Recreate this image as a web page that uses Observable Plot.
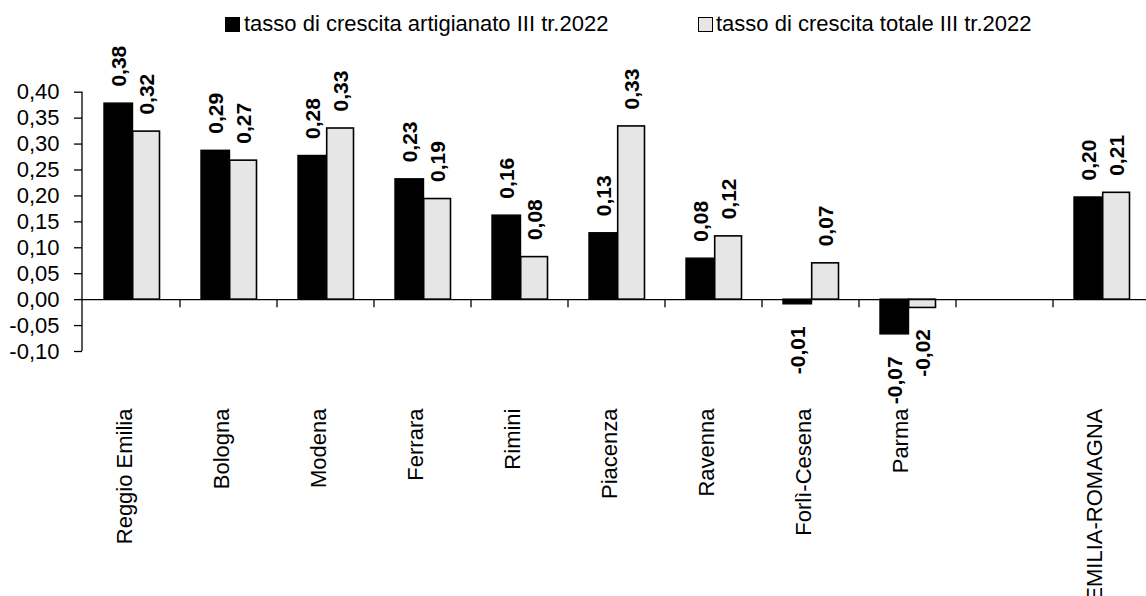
<!DOCTYPE html>
<html><head><meta charset="utf-8">
<script src="https://cdn.jsdelivr.net/npm/d3@7"></script>
<script src="https://cdn.jsdelivr.net/npm/@observablehq/plot@0.6"></script>
<style>
html,body{margin:0;padding:0;overflow:hidden;background:#fff;width:1146px;height:596px}
#legend{position:relative;height:40px;font-family:"Liberation Sans",Arial,sans-serif;font-size:22px;color:#000}
.sw{position:absolute;box-sizing:border-box}
.lt{position:absolute;line-height:22px;white-space:nowrap}
#chart svg{max-width:none !important;display:block;overflow:hidden}
</style></head><body>
<div id="legend"></div><div id="chart"></div>
<script>
// ---- data ----
const categories = ["Reggio Emilia", "Bologna", "Modena", "Ferrara", "Rimini", "Piacenza", "Ravenna", "Forlì-Cesena", "Parma", "", "EMILIA-ROMAGNA"];
const artigianato = [0.378, 0.287, 0.277, 0.232, 0.162, 0.128, 0.079, -0.009, -0.067, null, 0.197];
const totale      = [0.324, 0.268, 0.330, 0.194, 0.082, 0.334, 0.122, 0.070, -0.016, null, 0.206];
const seriesNames = ["tasso di crescita artigianato III tr.2022", "tasso di crescita totale III tr.2022"];
const seriesFill = ["#000000", "#e6e6e6"];
const yTicks = [-0.10, -0.05, 0.00, 0.05, 0.10, 0.15, 0.20, 0.25, 0.30, 0.35, 0.40];

// ---- legend ----
const legend = document.getElementById("legend");
const legendPos = [{sw: 225, tx: 244}, {sw: 697.5, tx: 716}];
seriesNames.forEach((name, i) => {
  const s = document.createElement("div");
  s.className = "sw";
  s.style.cssText = `left:${legendPos[i].sw}px;top:17px;width:15px;height:15px;background:${seriesFill[i]};border:1.5px solid #000`;
  legend.appendChild(s);
  const t = document.createElement("div");
  t.className = "lt";
  t.style.cssText = `left:${legendPos[i].tx}px;top:13px`;
  t.textContent = name;
  legend.appendChild(t);
});

// ---- chart ----
const rows = categories.map((c, i) => ({cat: c, art: artigianato[i], tot: totale[i]}));
const artRows = rows.filter(d => d.art != null);
const totRows = rows.filter(d => d.tot != null);
const fmt = v => v.toFixed(2).replace(".", ",");

const W = 1160, H = 556;
const mL = 82, mR = 9.6, mT = 51.7, mB = 245;

const boundaryMark = (index, scales, values, dims) => {
  const g = d3.create("svg:g").attr("stroke", "#000").attr("stroke-width", 1.3);
  const y0 = scales.y(0);
  for (const c of categories.slice(1)) {
    const x = scales.x(c);
    g.append("line").attr("x1", x).attr("x2", x).attr("y1", y0).attr("y2", y0 + 8);
  }
  g.append("line").attr("x1", dims.marginLeft).attr("x2", dims.marginLeft)
    .attr("y1", dims.marginTop).attr("y2", dims.height - dims.marginBottom);
  return g.node();
};

const lbl = {rotate: -90, fontWeight: "bold", fontSize: 21, fill: "#000", ariaLabel: "datalabel"};

const chart = Plot.plot({
  width: W, height: H,
  marginLeft: mL, marginRight: mR, marginTop: mT, marginBottom: mB,
  style: {fontFamily: "'Liberation Sans', Arial, sans-serif", fontSize: "22px", color: "#000", background: "#fff", maxWidth: "none", overflow: "hidden"},
  x: {type: "band", domain: categories, paddingInner: 0, paddingOuter: 0, axis: null},
  y: {domain: [-0.10, 0.40], axis: null},
  marks: [
    Plot.barY(artRows, {x: "cat", y: "art", fill: seriesFill[0], stroke: "#000", strokeWidth: 1.4, insetLeft: 21, insetRight: 47.5}),
    Plot.barY(totRows, {x: "cat", y: "tot", fill: seriesFill[1], stroke: "#000", strokeWidth: 1.6, insetLeft: 49.7, insetRight: 20.5}),
    Plot.ruleY([0], {stroke: "#000", strokeWidth: 1.3}),
    boundaryMark,
    Plot.axisY({ticks: yTicks, tickFormat: v => fmt(v), tickSize: 8, tickPadding: 15, fontSize: 22, label: null, stroke: "#000", strokeWidth: 1.3}),
    Plot.text(artRows.filter(d => d.art >= 0), {...lbl, x: "cat", y: "art", text: d => fmt(d.art), textAnchor: "start", dx: -13, dy: -17}),
    Plot.text(artRows.filter(d => d.art < 0), {...lbl, x: "cat", y: "art", text: d => fmt(d.art), textAnchor: "end", dx: -13, dy: 22}),
    Plot.text(totRows.filter(d => d.tot >= 0), {...lbl, x: "cat", y: "tot", text: d => fmt(d.tot), textAnchor: "start", dx: 15, dy: -17}),
    Plot.text(totRows.filter(d => d.tot < 0), {...lbl, x: "cat", y: "tot", text: d => fmt(d.tot), textAnchor: "end", dx: 15, dy: 21}),
    Plot.text(categories, {x: d => d, text: d => d, frameAnchor: "bottom", rotate: -90, textAnchor: "end", dy: 57, fontSize: 22, fill: "#000"})
  ]
});
// slightly taller glyphs for the rotated data labels, as in the reference
d3.select(chart).selectAll('g[aria-label="datalabel"] text').each(function() {
  const t = this.getAttribute("transform") || "";
  this.setAttribute("transform", t + " scale(1,1.12)");
});
document.getElementById("chart").appendChild(chart);
</script>
</body></html>
